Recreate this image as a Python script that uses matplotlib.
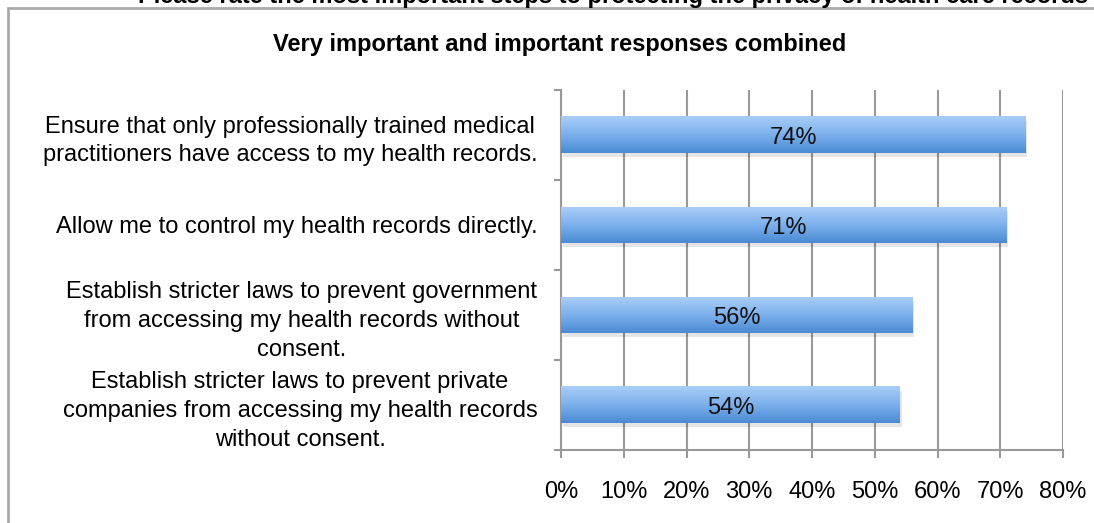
import numpy as np
import matplotlib
matplotlib.use('Agg')
from matplotlib import pyplot as plt
from matplotlib.colors import LinearSegmentedColormap
from matplotlib.patches import Rectangle

plt.rcParams['font.family'] = ['Liberation Sans', 'DejaVu Sans']

categories = [
    'Ensure that only professionally trained medical\npractitioners have access to my health records.',
    'Allow me to control my health records directly.',
    'Establish stricter laws to prevent government\nfrom accessing my health records without\nconsent.',
    'Establish stricter laws to prevent private\ncompanies from accessing my health records\nwithout consent.',
]
values = [74, 71, 56, 54]
xticks = [0, 10, 20, 30, 40, 50, 60, 70, 80]
title = 'Very important and important responses combined'
top_title = 'Please rate the most important steps to protecting the privacy of health care records'

fig = plt.figure(figsize=(10.94, 5.23), dpi=100)

# outer frame of the chart
fig.patches.append(Rectangle((8 / 1094, -0.05), 1.2, 1 - 8 / 523 + 0.05, transform=fig.transFigure,
                             fill=False, edgecolor='#aaaaaa', linewidth=2))
fig.text(0.56, 1.0 + 3 / 523, top_title, ha='center', va='center', fontsize=17, fontweight='bold')
fig.text(560 / 1094, 1 - 45 / 523, title, ha='center', va='center', fontsize=17, fontweight='bold')

ax = fig.add_axes([561 / 1094, 1 - 450 / 523, 502 / 1094, 360 / 523])

cmap = LinearSegmentedColormap.from_list('bar', ['#4a8bd4', '#7cb0ec', '#a9cdf7'])
grad = np.linspace(0, 1, 64).reshape(-1, 1)
ypos = np.arange(len(values))[::-1]
h = 0.4
for y, v in zip(ypos, values):
    # soft shadow
    ax.add_patch(Rectangle((0.3, y - h / 2 - 0.04), v, h, facecolor='#000000', alpha=0.10,
                           edgecolor='none', zorder=2))
    ax.imshow(grad, extent=[0, v, y - h / 2, y + h / 2], origin='lower', cmap=cmap,
              aspect='auto', zorder=3, interpolation='bicubic')
    ax.text(v / 2, y - 0.03, f'{v}%', ha='center', va='center', fontsize=17, color='#111111', zorder=4)

ax.set_xlim(0, 80)
ax.set_ylim(-0.5, len(values) - 0.5)
ax.set_xticks(xticks)
ax.set_xticklabels([f'{t}%' for t in xticks], fontsize=17)
ax.set_yticks(ypos)
ax.set_yticklabels(categories, fontsize=17, multialignment='center', linespacing=1.4)
ax.set_yticks(np.arange(len(values)) + 0.5, minor=True)
ax.tick_params(axis='y', which='major', length=0, pad=17)
ax.tick_params(axis='y', which='minor', length=5, color='#999999', width=1.5)
ax.tick_params(axis='x', length=6, color='#999999', width=1.5, pad=16)
ax.xaxis.grid(True, color='#999999', linewidth=1.5, zorder=1)
ax.set_axisbelow(True)
for s in ['top', 'right']:
    ax.spines[s].set_visible(False)
for s in ['left', 'bottom']:
    ax.spines[s].set_color('#999999')
    ax.spines[s].set_linewidth(1.5)
ax.spines['bottom'].set_bounds(-1, 80)
ax.spines['bottom'].set_clip_on(False)

fig.savefig('out.png', dpi=100)
